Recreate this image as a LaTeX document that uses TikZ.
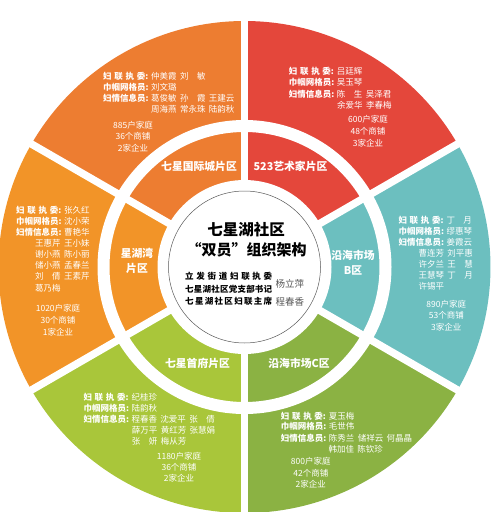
\documentclass[tikz,border=0pt]{standalone}
\usepackage{fontspec}
\setmainfont{Noto Sans CJK SC}
\definecolor{tlc}{HTML}{ED7D31}
\definecolor{lc}{HTML}{F29428}
\definecolor{redc}{HTML}{E4473B}
\definecolor{tealc}{HTML}{6CBFBF}
\definecolor{brc}{HTML}{8BB243}
\definecolor{blc}{HTML}{A9C63A}
\definecolor{namegray}{HTML}{555555}
\newcommand\nmgap{\hspace{0.4em}}
\newcommand\emsp{\hspace{1em}}
\newcommand\rowA[1]{\makebox[48pt][l]{\textbf{\makebox[4.95em][s]{妇\hfill 联\hfill 执\hfill 委}:}}#1}
\newcommand\rowB[1]{\makebox[48pt][l]{\textbf{巾帼网格员:}}#1}
\newcommand\rowC[1]{\makebox[48pt][l]{\textbf{妇情信息员:}}#1}
\begin{document}
\begin{tikzpicture}[x=1pt,y=-1pt,
  row/.style={anchor=west, inner sep=0pt, text=white, font=\fontsize{8.5}{10}\selectfont},
  stat/.style={inner sep=0pt, text=white, font=\fontsize{8.5}{10}\selectfont},
  zone/.style={inner sep=0pt, text=white, align=center, font=\fontsize{10.8}{15}\selectfont\bfseries},
  ttl/.style={inner sep=0pt, text=black, font=\fontsize{15.5}{18}\selectfont\bfseries},
  cline/.style={anchor=west, inner sep=0pt, text=black, font=\fontsize{8.5}{10}\selectfont\bfseries},
  cname/.style={anchor=west, inner sep=0pt, text=namegray, font=\fontsize{9.5}{11}\selectfont}]
\fill[white] (0,0) rectangle (493,512);
\useasboundingbox (0,0) rectangle (493,512);
\coordinate (C) at (244.5,267);
% sectors
\foreach \a/\c in {-90/redc,-150/tlc,150/lc,90/blc,30/brc,-30/tealc}
  \fill[\c] (C) -- ++(\a:246) arc[start angle=\a, delta angle=60, radius=246] -- cycle;
\draw[white, line width=12pt] (C) circle[radius=141];
\foreach \a in {30,90,...,330}
  \draw[white, line width=7.5pt] (C) -- ++(\a:255);
\fill[white] (C) circle[radius=87];
\draw[black!65, line width=0.5pt] (C) circle[radius=76];
% centre
\node[ttl] (t1) at (246,230) {七星湖社区};
\node[ttl, font=\fontsize{15}{18}\selectfont\bfseries] (t2) at (246.5,250) {“双员”组织架构};
\node[cline] (c1) at (185,276.5) {\makebox[87pt][s]{立\hfill 发\hfill 街\hfill 道\hfill 妇\hfill 联\hfill 执\hfill 委}};
\node[cline] (c2) at (185,289) {\makebox[87pt][s]{七\hfill 星\hfill 湖\hfill 社\hfill 区\hfill 党\hfill 支\hfill 部\hfill 书\hfill 记}};
\node[cline] (c3) at (185,301.5) {\makebox[87pt][s]{七\hfill 星\hfill 湖\hfill 社\hfill 区\hfill 妇\hfill 联\hfill 主\hfill 席}};
\node[cname] (n1) at (275.5,284) {杨立萍};
\node[cname] (n2) at (275.5,301.5) {程春香};
% zone labels
\node[zone] (z1) at (199,166.7) {七星国际城片区};
\node[zone] (z2) at (290.5,166.7) {523艺术家片区};
\node[zone] (z3) at (137,260.5) {星湖湾\\片区};
\node[zone] (z4) at (353,262.5) {沿海市场\\B区};
\node[zone] (z5) at (197.5,363) {七星首府片区};
\node[zone] (z6) at (299,363) {沿海市场C区};
% top-left block
\node[row] (tl1) at (103,76) {\rowA{仲美霞\nmgap 刘\emsp 敏}};
\node[row] (tl2) at (103,87) {\rowB{刘文璐}};
\node[row] (tl3) at (103,98) {\rowC{葛俊敏\nmgap 孙\emsp 霞\nmgap 王建云}};
\node[row] (tl4) at (151,109) {周海燕\nmgap 常永珠\nmgap 陆韵秋};
\node[stat] (tls1) at (133,125) {885户家庭};
\node[stat] (tls2) at (133,136.5) {36个商铺};
\node[stat] (tls3) at (133,148) {2家企业};
% top-right block
\node[row] (tr1) at (288.7,71.7) {\rowA{吕廷辉}};
\node[row] (tr2) at (288.7,82.7) {\rowB{吴玉琴}};
\node[row] (tr3) at (288.7,94.3) {\rowC{陈\emsp 生\nmgap 吴泽君}};
\node[row] (tr4) at (337,105) {余爱华\nmgap 李春梅};
\node[stat] (trs1) at (368,119.3) {600户家庭};
\node[stat] (trs2) at (368,131) {48个商铺};
\node[stat] (trs3) at (368,143.3) {3家企业};
% left block
\node[row] (l1) at (16,210.7) {\rowA{张久红}};
\node[row] (l2) at (16,221.7) {\rowB{沈小荣}};
\node[row] (l3) at (16,232.5) {\rowC{曹艳华}};
\node[row] (l4) at (35,243.7) {王惠芹\nmgap 王小妹};
\node[row] (l5) at (35,254.7) {谢小燕\nmgap 陈小丽};
\node[row] (l6) at (35,265.7) {储小燕\nmgap 孟春兰};
\node[row] (l7) at (35,276.7) {刘\emsp 倩\nmgap 王素芹};
\node[row] (l8) at (35,288) {葛乃梅};
\node[stat] (ls1) at (58,308.3) {1020户家庭};
\node[stat] (ls2) at (58,320) {30个商铺};
\node[stat] (ls3) at (58,332) {1家企业};
% right block
\node[row] (r1) at (398.3,220.7) {\rowA{丁\emsp 月}};
\node[row] (r2) at (398.3,231.7) {\rowB{缪惠琴}};
\node[row] (r3) at (398.3,242.7) {\rowC{姜霞云}};
\node[row] (r4) at (418.3,253.3) {曹连芳\nmgap 刘平惠};
\node[row] (r5) at (418.3,264.3) {许夕兰\nmgap 王\emsp 慧};
\node[row] (r6) at (418.3,275.3) {王慧琴\nmgap 丁\emsp 月};
\node[row] (r7) at (418.3,286.7) {许锡平};
\node[stat] (rs1) at (446.3,304) {890户家庭};
\node[stat] (rs2) at (446.3,315.3) {53个商铺};
\node[stat] (rs3) at (446.3,327) {3家企业};
% bottom-left block
\node[row] (bl1) at (83.3,397.7) {\rowA{纪桂珍}};
\node[row] (bl2) at (83.3,408.7) {\rowB{陆韵秋}};
\node[row] (bl3) at (83.3,419.5) {\rowC{程春香\nmgap 沈爱平\nmgap 张\emsp 倩}};
\node[row] (bl4) at (131.7,430.5) {薛万平\nmgap 黄红芳\nmgap 张慧娟};
\node[row] (bl5) at (131.7,441.7) {张\emsp 妍\nmgap 梅从芳};
\node[stat] (bls1) at (179,456) {1180户家庭};
\node[stat] (bls2) at (179,467.7) {36个商铺};
\node[stat] (bls3) at (179,478.7) {2家企业};
% bottom-right block
\node[row] (br1) at (280.7,416) {\rowA{夏玉梅}};
\node[row] (br2) at (280.7,426.7) {\rowB{毛世伟}};
\node[row] (br3) at (280.7,438.3) {\rowC{陈秀兰\nmgap 储祥云\nmgap 何晶晶}};
\node[row] (br4) at (328.3,449.3) {韩加佳\nmgap 陈钦珍};
\node[stat] (brs1) at (310.8,461.5) {800户家庭};
\node[stat] (brs2) at (310.8,473) {42个商铺};
\node[stat] (brs3) at (310.8,484.5) {2家企业};
\end{tikzpicture}
\end{document}
